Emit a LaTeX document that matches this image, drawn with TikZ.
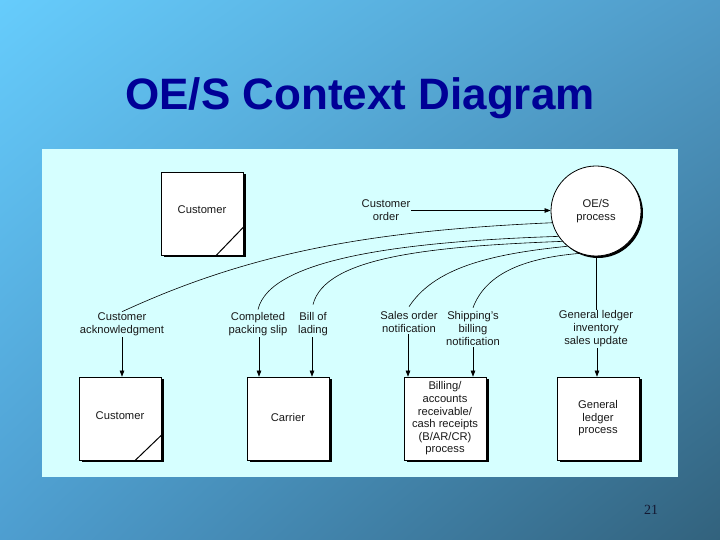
\documentclass[tikz,border=0pt]{standalone}
\usepackage{fontspec}
\setmainfont{Liberation Sans}
\newfontfamily\pagenumfont{Liberation Serif}
\usetikzlibrary{arrows.meta,shadows,calc,shadings}
\definecolor{panel}{RGB}{214,255,255}
\definecolor{titleblue}{RGB}{0,0,150}
\definecolor{bgUL}{RGB}{102,204,252}
\definecolor{bgUR}{RGB}{80,155,200}
\definecolor{bgLL}{RGB}{78,158,208}
\definecolor{bgLR}{RGB}{50,98,125}
\definecolor{numcol}{RGB}{20,25,50}
\definecolor{txt}{RGB}{25,25,25}
\begin{document}
\begin{tikzpicture}[x=1pt,y=1pt,
  box/.style={draw=black, line width=0.6pt, fill=white, minimum width=82pt, minimum height=83pt,
    inner sep=0pt, align=center, text=txt, font=\fontsize{11.2}{12.6}\selectfont,
    drop shadow={shadow xshift=2.5pt,shadow yshift=-2.5pt,fill=black,opacity=1}},
  lbl/.style={font=\fontsize{11.2}{13}\selectfont, text=txt, align=center, inner sep=1pt},
  flow/.style={line width=0.6pt},
  arr/.style={flow, -{Triangle[length=6pt,width=4.5pt]}},
  corner/.style={line width=1pt}
]
\useasboundingbox (0,0) rectangle (720,540);
\shade[upper left=bgUL, upper right=bgUR, lower left=bgLL, lower right=bgLR] (0,0) rectangle (720,540);
\fill[panel] (42,63) rectangle (678,391);

% title and page number
\node[font=\fontsize{44}{48}\selectfont\bfseries, text=titleblue, anchor=base] (title) at (360,430) {OE/S Context Diagram};
\node[font=\pagenumfont\fontsize{14}{16}\selectfont, text=numcol, anchor=base] (pg) at (651,25) {21};

% central process
\node[circle, draw=black, line width=0.8pt, fill=white, minimum size=90pt, inner sep=0pt, align=center,
  text=txt, font=\fontsize{11.2}{13}\selectfont,
  drop shadow={shadow xshift=2pt,shadow yshift=-2pt,fill=black,opacity=1}] (oes) at (596,329) {OE/S\\process};

% top customer
\node[box, label={[lbl,yshift=4pt]center:Customer}] (cust1) at (202,326.5) {};
\draw[corner] ($(cust1.south east)+(-27,0)$) -- ($(cust1.south east)+(0,28)$);

% bottom boxes
\node[box, label={[lbl,yshift=3pt]center:Customer}] (cust2) at (120,121.5) {};
\draw[corner] ($(cust2.south east)+(-26,0)$) -- ($(cust2.south east)+(0,25)$);
\node[box] (carrier) at (288,121.5) {\raisebox{3pt}{Carrier}};
\node[box] (billing) at (445,121.5) {Billing/\\accounts\\receivable/\\cash receipts\\(B/AR/CR)\\process};
\node[box] (gl) at (598,121.5) {General\\ledger\\process};

% labels
\node[lbl] (order) at (386,329.5) {Customer\\order};
\node[lbl] (ack) at (122,215.5) {Customer\\acknowledgment};
\node[lbl] (pack) at (258,215.5) {Completed\\packing slip};
\node[lbl] (lad) at (313,215.5) {Bill of\\lading};
\node[lbl] (sales) at (409,217.5) {Sales order\\notification};
\node[lbl] (ship) at (473,211) {Shipping's\\billing\\notification};
\node[lbl] (glab) at (596,211) {General ledger\\inventory\\sales update};

% connectors
\draw[arr] (order.east) -- (order.east -| oes.west);
\draw[flow] (oes.195) .. controls +(-180,-8) and +(130,60) .. ([yshift=0pt]ack.north);
\draw[flow] (oes.214) .. controls +(-150,-5) and +(12,52) .. ([yshift=2pt]pack.north);
\draw[flow] (oes.222) .. controls +(-130,-5) and +(12,48) .. ([yshift=7pt]lad.north);
\draw[flow] (oes.231) .. controls +(-80,-8) and +(25,38) .. ([yshift=4pt]sales.north);
\draw[flow] (oes.249) .. controls +(-60,-5) and +(12,32) .. ([yshift=3pt]ship.north);
\draw[flow] (oes.south) -- (oes.south |- glab.north);

\draw[arr] (ack.south) -- (ack.south |- cust2.north);
\draw[arr] ([xshift=1pt]pack.south) -- ([xshift=1pt]pack.south |- carrier.north);
\draw[arr] ([xshift=-1pt]lad.south) -- ([xshift=-1pt]lad.south |- carrier.north);
\draw[arr] ([xshift=-1pt]sales.south) -- ([xshift=-1pt]sales.south |- billing.north);
\draw[arr] (ship.south) -- (ship.south |- billing.north);
\draw[arr] ([xshift=1pt]glab.south) -- ([xshift=1pt]glab.south |- gl.north);
\end{tikzpicture}
\end{document}
